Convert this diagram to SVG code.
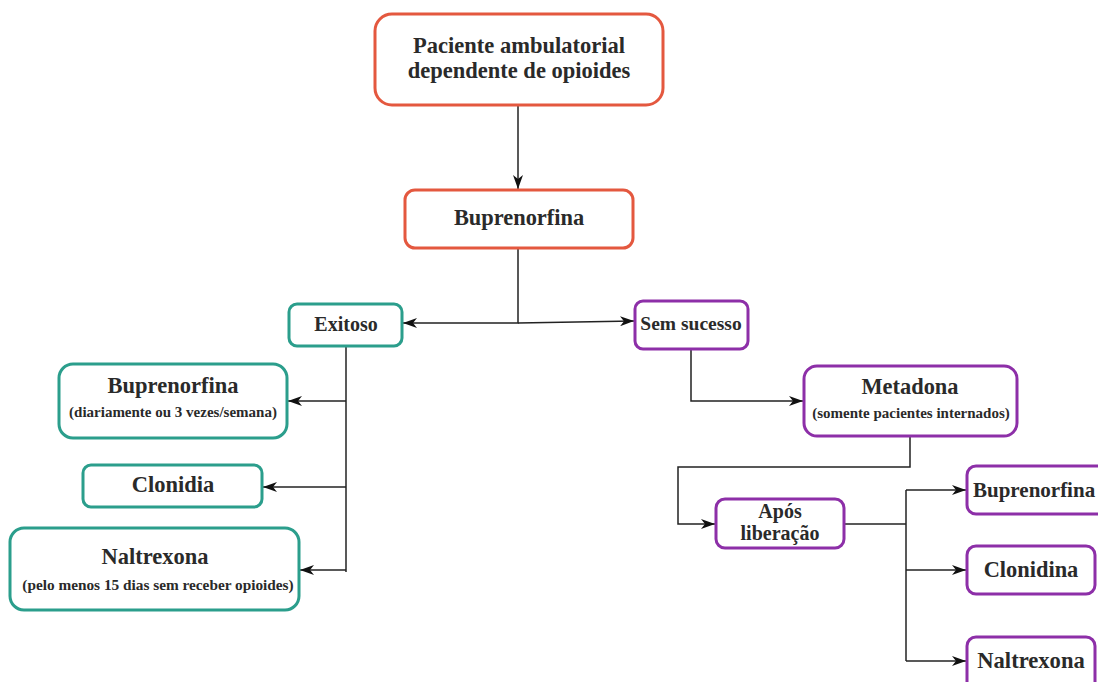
<svg xmlns="http://www.w3.org/2000/svg" width="1098" height="682" viewBox="0 0 1098 682">
<style>
.r{fill:#fff;stroke:#e4583f;stroke-width:3}
.g{fill:#fff;stroke:#2b9e8c;stroke-width:3}
.p{fill:#fff;stroke:#8d2fa8;stroke-width:3}
text{font-weight:bold;fill:#2a2a2a;text-anchor:middle}
.c{fill:none;stroke:#222;stroke-width:1.5}
</style>
<defs>
<marker id="a" viewBox="0 0 14 10" refX="14" refY="5" markerWidth="14" markerHeight="10" markerUnits="userSpaceOnUse" orient="auto">
<path d="M0,0 L14,5 L0,10 L4,5 Z" fill="#111"/>
</marker>
</defs>
<rect width="1098" height="682" fill="#fff"/>
<g id="connectors">
<path class="c" d="M518,106 V189" marker-end="url(#a)"/>
<path class="c" d="M518,249 V323 H403" marker-end="url(#a)"/>
<path class="c" d="M518,323 L634,321" marker-end="url(#a)"/>
<path class="c" d="M346,347 V572"/>
<path class="c" d="M346,401 H288" marker-end="url(#a)"/>
<path class="c" d="M346,487 H263" marker-end="url(#a)"/>
<path class="c" d="M346,570 H300" marker-end="url(#a)"/>
<path class="c" d="M691,350 V401 H803" marker-end="url(#a)"/>
<path class="c" d="M910,437 V467 H678 V524 H715" marker-end="url(#a)"/>
<path class="c" d="M845,524 H906" stroke-width="2"/>
<path class="c" d="M906,490 V661"/>
<path class="c" d="M906,490 H966" marker-end="url(#a)"/>
<path class="c" d="M906,570 H966" marker-end="url(#a)"/>
<path class="c" d="M906,661 H966" marker-end="url(#a)"/>
</g>
<g font-family="'Liberation Serif', 'DejaVu Serif', serif">
<g id="n-paciente">
<rect class="r" x="375" y="14" width="288" height="91" rx="17"/>
<text x="519" y="53" font-size="22.5">Paciente ambulatorial</text>
<text x="519" y="78" font-size="22.5">dependente de opioides</text>
</g>
<g id="n-bupre">
<rect class="r" x="405" y="190" width="228" height="58" rx="10"/>
<text x="519" y="225" font-size="22.4">Buprenorfina</text>
</g>
<g id="n-exitoso">
<rect class="g" x="289" y="304" width="113" height="42" rx="8"/>
<text x="346" y="331" font-size="20">Exitoso</text>
</g>
<g id="n-sem">
<rect class="p" x="635" y="301" width="113" height="48" rx="8"/>
<text x="691" y="330" font-size="19.5">Sem sucesso</text>
</g>
<g id="n-bupre-l">
<rect class="g" x="59" y="364" width="228" height="74" rx="14"/>
<text x="173" y="393" font-size="22.5">Buprenorfina</text>
<text x="173" y="417" font-size="15">(diariamente ou 3 vezes/semana)</text>
</g>
<g id="n-clonidia">
<rect class="g" x="83" y="465" width="179" height="42" rx="8"/>
<text x="173" y="492" font-size="22.5">Clonidia</text>
</g>
<g id="n-naltrexona-l">
<rect class="g" x="10" y="528" width="289" height="82" rx="14"/>
<text x="155" y="564" font-size="22.5">Naltrexona</text>
<text x="158" y="590" font-size="15.3">(pelo menos 15 dias sem receber opioides)</text>
</g>
<g id="n-metadona">
<rect class="p" x="804" y="366" width="213" height="70" rx="13"/>
<text x="910" y="394" font-size="22.4">Metadona</text>
<text x="911" y="418" font-size="15">(somente pacientes internados)</text>
</g>
<g id="n-apos">
<rect class="p" x="716" y="499" width="128" height="49" rx="9"/>
<text x="780" y="518" font-size="20">Após</text>
<text x="780" y="540" font-size="20">liberação</text>
</g>
<g id="n-bupre-r">
<rect class="p" x="967" y="466" width="140" height="48" rx="9"/>
<text x="973" y="497" font-size="21" style="text-anchor:start">Buprenorfina</text>
</g>
<g id="n-clonidina">
<rect class="p" x="967" y="546" width="128" height="48" rx="9"/>
<text x="1031" y="577" font-size="22.4">Clonidina</text>
</g>
<g id="n-naltrexona-r">
<rect class="p" x="967" y="637" width="128" height="55" rx="9"/>
<text x="1031" y="668" font-size="22.6">Naltrexona</text>
</g>
</g>
</svg>
